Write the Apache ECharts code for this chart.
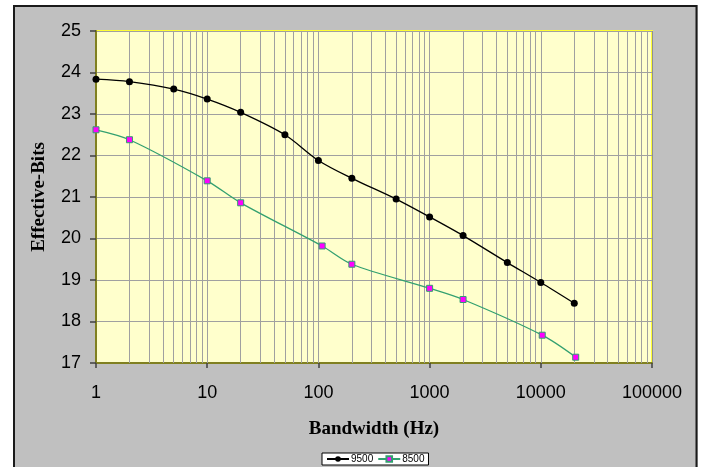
<!DOCTYPE html>
<html lang="en">
  <head>
    <meta charset="UTF-8">
    <title>Effective-Bits</title>
    <script src="https://cdn.jsdelivr.net/npm/echarts@6/dist/echarts.min.js"></script>
    <style>
      html, body { margin: 0; padding: 0; background: #fff; }
      #chart { width: 702px; height: 467px; }
    </style>
  </head>
  <body>
    <div id="chart"></div>
    <script>
      // 9500 series
      const bw9500 = [1, 2, 5, 10, 20, 50, 100, 200, 500, 1000, 2000, 5000, 10000, 20000]
      const bits9500 = [23.84, 23.78, 23.60, 23.36, 23.04, 22.50, 21.88, 21.45, 20.95, 20.52, 20.07, 19.42, 18.94, 18.44]
      // 8500 series
      const bw8500 = [1, 2, 10, 20, 108, 200, 1000, 2000, 10300, 20600]
      const bits8500 = [22.62, 22.38, 21.39, 20.86, 19.82, 19.38, 18.80, 18.53, 17.67, 17.14]

      const yTicks = [17, 18, 19, 20, 21, 22, 23, 24, 25]
      const decades = [1, 10, 100, 1000, 10000]

      // minor vertical grid: 2..9 in every decade
      const minorLines = []
      decades.forEach(d => {
        for (let m = 2; m <= 9; m++) {
          minorLines.push({ xAxis: d * m })
        }
      })
      const decadeLines = [10, 100, 1000, 10000].map(v => ({ xAxis: v }))

      const zip = (xs, ys) => xs.map((x, i) => [x, ys[i]])

      const chart = echarts.init(document.getElementById('chart'))
      chart.setOption({
        animation: false,
        backgroundColor: '#C0C0C0',
        textStyle: { fontFamily: 'Liberation Sans, Arial, sans-serif' },
        graphic: [
          { type: 'rect', shape: { x: 0, y: 0, width: 702, height: 5 }, style: { fill: '#fff' } },
          { type: 'rect', shape: { x: 0, y: 0, width: 13, height: 467 }, style: { fill: '#fff' } },
          { type: 'rect', shape: { x: 698, y: 0, width: 4, height: 467 }, style: { fill: '#fff' } },
          { type: 'polyline', shape: { points: [[14, 470], [14, 6], [696.5, 6], [696.5, 470]] },
            style: { stroke: '#1a1a1a', lineWidth: 2, fill: null } }
        ],
        grid: {
          left: 96, top: 31, right: 50, bottom: 104,
          show: true,
          backgroundColor: '#FFFFCC',
          borderColor: '#FFFF33',
          borderWidth: 2
        },
        legend: {
          left: 322, top: 453,
          backgroundColor: '#fff',
          borderColor: '#000',
          borderWidth: 1,
          borderRadius: 0,
          padding: [1, 4, 1, 4],
          itemGap: 4,
          itemWidth: 22,
          itemHeight: 7,
          textStyle: { fontSize: 10, lineHeight: 10, color: '#000', padding: [0, 0, 0, -3] },
          data: ['9500', '8500']
        },
        xAxis: {
          type: 'log',
          logBase: 10,
          min: 1,
          max: 100000,
          name: 'Bandwidth (Hz)',
          nameLocation: 'middle',
          nameGap: 57,
          nameTextStyle: { fontFamily: 'Liberation Serif, Times New Roman, serif', fontWeight: 'bold', fontSize: 19, color: '#000' },
          axisLine: { onZero: false, lineStyle: { color: '#808020', width: 2 } },
          axisTick: { length: 5, lineStyle: { color: '#404040', width: 1.5 } },
          axisLabel: { fontSize: 18, color: '#000', margin: 21, formatter: v => String(v) },
          splitLine: { show: true, lineStyle: { color: '#909090', width: 1 } }
        },
        yAxis: {
          type: 'value',
          min: 17,
          max: 25,
          interval: 1,
          name: 'Effective-Bits',
          nameLocation: 'middle',
          nameGap: 47,
          nameTextStyle: { fontFamily: 'Liberation Serif, Times New Roman, serif', fontWeight: 'bold', fontSize: 19, color: '#000' },
          axisLine: { show: true, lineStyle: { color: '#808020', width: 2 } },
          axisTick: { show: true, length: 6, lineStyle: { color: '#404040', width: 1.5 } },
          axisLabel: { fontSize: 18, color: '#000', margin: 15,
            formatter: v => yTicks.includes(v) ? String(v) : '' },
          splitLine: { show: true, lineStyle: { color: '#A0A0A0', width: 1 } }
        },
        series: [
          {
            name: 'grid',
            type: 'line',
            data: [],
            silent: true,
            z: 1,
            markLine: {
              silent: true,
              symbol: 'none',
              label: { show: false },
              lineStyle: { color: '#A0A0A0', type: 'solid', width: 1 },
              emphasis: { disabled: true },
              data: minorLines.concat(decadeLines)
            }
          },
          {
            name: '9500',
            type: 'line',
            data: zip(bw9500, bits9500),
            smooth: 0.3,
            symbol: 'circle',
            symbolSize: 7,
            z: 5,
            lineStyle: { color: '#000', width: 1.3 },
            itemStyle: { color: '#000', borderColor: '#000', borderWidth: 0 }
          },
          {
            name: '8500',
            type: 'line',
            data: zip(bw8500, bits8500),
            smooth: 0.3,
            symbol: 'rect',
            symbolSize: 6,
            z: 5,
            lineStyle: { color: '#33A070', width: 1.3 },
            itemStyle: { color: '#FF00FF', borderColor: '#33A070', borderWidth: 1 }
          }
        ]
      })
    </script>
  </body>
</html>
